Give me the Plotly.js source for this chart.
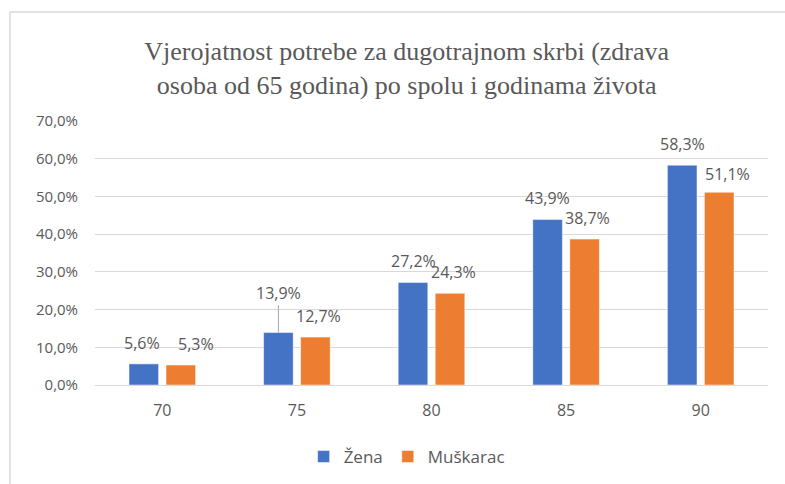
<!DOCTYPE html>
<html>
<head>
<meta charset="utf-8">
<script src="https://cdn.plot.ly/plotly-3.0.1.min.js"></script>
<style>html,body{margin:0;padding:0;background:#fff;} #chart{width:785px;height:484px;}</style>
</head>
<body>
<div id="chart"></div>
<script>
const categories = ['70', '75', '80', '85', '90'];
const zena = [5.6, 13.9, 27.2, 43.9, 58.3];
const muskarac = [5.3, 12.7, 24.3, 38.7, 51.1];
const seriesNames = ['Žena', 'Muškarac'];
const yTicks = [0, 10, 20, 30, 40, 50, 60, 70];
const titleText = 'Vjerojatnost potrebe za dugotrajnom skrbi (zdrava<br>osoba od 65 godina) po spolu i godinama života';

const BLUE = '#4472C4', ORANGE = '#ED7D31', GRAY = '#595959';
const fmt = v => v.toFixed(1).replace('.', ',') + '%';

const traces = [
  {type: 'bar', name: seriesNames[0], x: categories, y: zena,
   marker: {color: BLUE, line: {color: '#ffffff', width: 0.5}}, hoverinfo: 'skip'},
  {type: 'bar', name: seriesNames[1], x: categories, y: muskarac,
   marker: {color: ORANGE, line: {color: '#ffffff', width: 0.5}}, hoverinfo: 'skip'}
];

const annotations = [];
const BAR_OFF = 18.5;
[zena, muskarac].forEach((arr, si) => {
  arr.forEach((v, i) => {
    const a = {
      x: i, y: v, xref: 'x', yref: 'y',
      text: fmt(v), font: {family: 'Open Sans, sans-serif', size: 16, color: GRAY},
      xshift: si === 0 ? -BAR_OFF : BAR_OFF + 3,
      xanchor: 'center', yanchor: 'middle', showarrow: false, yshift: 21
    };
    if (si === 0 && i === 1) {
      a.showarrow = true; a.ax = 0; a.ay = -40; a.yshift = 0;
      a.arrowhead = 0; a.arrowwidth = 1; a.arrowcolor = '#a6a6a6'; a.standoff = 0;
      a.xanchor = 'auto'; a.yanchor = 'auto';
    }
    if (i === 0) { a.xshift = si === 0 ? -BAR_OFF - 2 : BAR_OFF + 15; }
    if (si === 1 && i === 4) { a.xshift = BAR_OFF + 8; a.yshift = 18; }
    annotations.push(a);
  });
});

const px = (p) => (p - 95) / 673;
const py = (p) => (385 - p) / 264;

const layout = {
  width: 785, height: 484,
  margin: {l: 95, r: 17, t: 121, b: 99},
  paper_bgcolor: '#ffffff', plot_bgcolor: '#ffffff',
  separators: ', ',
  title: {text: titleText, xref: 'container', yref: 'container', x: 0.518, xanchor: 'center',
          y: 1 - 60 / 484, yanchor: 'middle',
          font: {family: 'Liberation Serif, Times New Roman, serif', size: 26, color: GRAY}},
  barmode: 'group', bargap: 0.45, bargroupgap: 0.2,
  xaxis: {type: 'category', range: [-0.5, categories.length - 0.5], autorange: false,
          showgrid: false, showline: false, zeroline: false,
          ticks: '', ticklabelstandoff: 14,
          tickfont: {family: 'Open Sans, sans-serif', size: 16, color: GRAY}},
  yaxis: {range: [0, 70], autorange: false, tickvals: yTicks, ticktext: yTicks.map(fmt),
          showgrid: true, gridcolor: '#d9d9d9', gridwidth: 1,
          zeroline: true, zerolinecolor: '#d9d9d9', zerolinewidth: 1,
          showline: false, ticks: '', ticklabelstandoff: 16,
          tickfont: {family: 'Open Sans, sans-serif', size: 15, color: GRAY}},
  showlegend: true,
  legend: {orientation: 'h', xref: 'container', yref: 'container', x: 0.518, xanchor: 'center',
           y: 1 - 457 / 484, yanchor: 'middle', itemwidth: 30, traceorder: 'normal',
           font: {family: 'Open Sans, sans-serif', size: 17, color: GRAY}},
  annotations: annotations,
  shapes: [{type: 'rect', xref: 'paper', yref: 'paper',
            x0: px(10), x1: px(800), y0: py(500), y1: py(12),
            line: {color: '#d9d9d9', width: 1.5}, fillcolor: 'rgba(0,0,0,0)', layer: 'below'}]
};

Plotly.newPlot('chart', traces, layout, {displayModeBar: false, staticPlot: true});
</script>
</body>
</html>
